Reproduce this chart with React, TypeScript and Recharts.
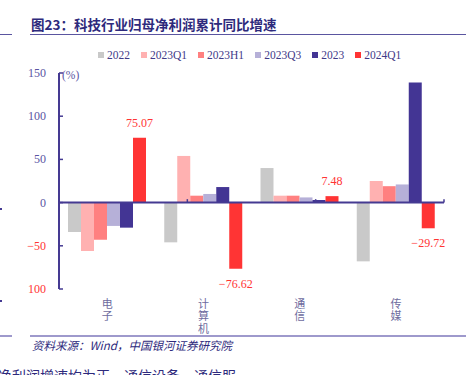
import React from 'react';
import { BarChart, Bar, XAxis, YAxis, ReferenceLine, LabelList } from 'recharts';

const categories = ['电子', '计算机', '通信', '传媒'];
const s2022 = [-34, -46, 40, -68];
const s2023Q1 = [-56, 54, 8, 25];
const s2023H1 = [-43, 8, 8, 19];
const s2023Q3 = [-27, 10, 6, 21];
const s2023 = [-29, 18, 3, 139];
const s2024Q1 = [75.07, -76.62, 7.48, -29.72];
const yTicks = [-100, -50, 0, 50, 100, 150];
const yTickLabels = ['100', '−50', '0', '50', '100', '150'];
const seriesNames = ['2022', '2023Q1', '2023H1', '2023Q3', '2023', '2024Q1'];
const seriesColors = ['#C9C9C9', '#FFB1B1', '#FF8080', '#B6B0D8', '#433594', '#FF3434'];
const boundaries = [0, 1, 2, 3, 4];

const data = categories.map((c, i) => ({
  cat: c,
  s0: s2022[i],
  s1: s2023Q1[i],
  s2: s2023H1[i],
  s3: s2023Q3[i],
  s4: s2023[i],
  s5: s2024Q1[i],
}));

const NAVY = '#453A92';
const SERIF = '"Liberation Serif", "Times New Roman", serif';
const CJK = '"Noto Sans CJK SC", sans-serif';

const YTick = (props: any) => {
  const { x, y, payload } = props;
  const idx = yTicks.indexOf(payload.value);
  const neg = payload.value < 0;
  return (
    <text x={x} y={y + 4} textAnchor="end" fontSize={12} fontFamily={SERIF} fill={neg ? '#FF3434' : '#5A55A3'}>
      {yTickLabels[idx]}
    </text>
  );
};

const XTick = (props: any) => {
  const { x, y, payload } = props;
  return (
    <text
      x={x}
      y={y + 9}
      fontSize={11}
      fontFamily={CJK}
      fill="#6E6C9E"
      letterSpacing={1.5}
      style={{ writingMode: 'vertical-rl' as any }}
    >
      {String(payload.value)}
    </text>
  );
};

const fmt = (v: number) => (v < 0 ? '−' + Math.abs(v).toFixed(2) : v.toFixed(2));

const ValueLabel = (props: any) => {
  const { x, y, width, height, value } = props;
  const top = Math.min(y, y + height);
  const bottom = Math.max(y, y + height);
  const pos = value >= 0;
  return (
    <text
      x={x + width / 2}
      y={pos ? top - 11 : bottom + 19}
      textAnchor="middle"
      fontSize={12}
      fontFamily={SERIF}
      fill="#FF3434"
    >
      {fmt(value)}
    </text>
  );
};

export default function App() {
  return (
    <div style={{ position: 'absolute', left: 0, top: 0, width: 466, height: 375, background: '#fff', overflow: 'hidden' }}>
      {/* Title */}
      <div style={{ position: 'absolute', left: 31, top: 14, fontFamily: CJK, fontWeight: 700, fontSize: 13.5, color: '#2E2A7C', whiteSpace: 'nowrap' }}>
        图23：科技行业归母净利润累计同比增速
      </div>
      <div style={{ position: 'absolute', left: 30, top: 34, width: 436, height: 1, background: '#5A55A0' }} />
      <div style={{ position: 'absolute', left: 0, top: 34, width: 12, height: 1, background: '#5A55A0' }} />

      {/* Legend */}
      <div style={{ position: 'absolute', left: 98, top: 49, display: 'flex', alignItems: 'center', fontFamily: SERIF, fontSize: 11.5, color: '#3F3A88', whiteSpace: 'nowrap' }}>
        {seriesNames.map((n, i) => (
          <div key={n} style={{ display: 'flex', alignItems: 'center', marginRight: 11 }}>
            <div style={{ width: 6, height: 6, background: seriesColors[i], marginRight: 3 }} />
            <span>{n}</span>
          </div>
        ))}
      </div>

      <div style={{ position: 'absolute', left: 62, top: 69, fontFamily: SERIF, fontSize: 11.5, color: '#5A55A3' }}>(%)</div>

      <div style={{ position: 'absolute', left: 0, top: 0 }}>
        <BarChart
          width={466}
          height={375}
          data={data}
          margin={{ top: 73, right: 22, bottom: 36, left: 29 }}
          barGap={0}
          barCategoryGap={9}
        >
          <XAxis dataKey="cat" height={50} axisLine={false} tickLine={false} tickSize={0} tickMargin={0} tick={<XTick />} interval={0} />
          <XAxis xAxisId="b" type="number" domain={[0, 4]} hide allowDataOverflow />
          <YAxis
            width={30}
            domain={[-100, 150]}
            ticks={yTicks}
            interval={0}
            axisLine={{ stroke: NAVY, strokeWidth: 2 }}
            tickLine={{ stroke: NAVY, strokeWidth: 1.5 }}
            tickSize={-4}
            tickMargin={17}
            tick={<YTick />}
          />
          {seriesNames.map((n, i) => (
            <Bar key={n} dataKey={'s' + i} name={n} fill={seriesColors[i]} isAnimationActive={false}>
              {i === 5 ? <LabelList dataKey="s5" content={<ValueLabel />} /> : null}
            </Bar>
          ))}
          <ReferenceLine y={0} stroke={NAVY} strokeWidth={2} />
          {boundaries.map((b) => (
            <ReferenceLine
              key={b}
              xAxisId="b"
              segment={[{ x: b, y: 0 }, { x: b, y: 4 }]}
              stroke={NAVY}
              strokeWidth={1.5}
            />
          ))}
        </BarChart>
      </div>

      {/* Footer */}
      <div style={{ position: 'absolute', left: 30, top: 335, width: 436, height: 2, background: '#9E99CC' }} />
      <div style={{ position: 'absolute', left: 0, top: 335, width: 12, height: 2, background: '#9E99CC' }} />
      <div style={{ position: 'absolute', left: 32, top: 337, fontFamily: CJK, fontStyle: 'italic', fontSize: 11.5, color: '#2E2A7C', whiteSpace: 'nowrap' }}>
        资料来源：Wind，中国银河证券研究院
      </div>
      <div style={{ position: 'absolute', left: -2, top: 365, fontFamily: CJK, fontSize: 14, color: '#2E2A7C', whiteSpace: 'nowrap' }}>
        净利润增速均为正，通信设备，通信服
      </div>
      <div style={{ position: 'absolute', left: 0, top: 208, width: 2, height: 2, background: NAVY }} />
      <div style={{ position: 'absolute', left: 0, top: 300, width: 2, height: 2, background: NAVY }} />
    </div>
  );
}
